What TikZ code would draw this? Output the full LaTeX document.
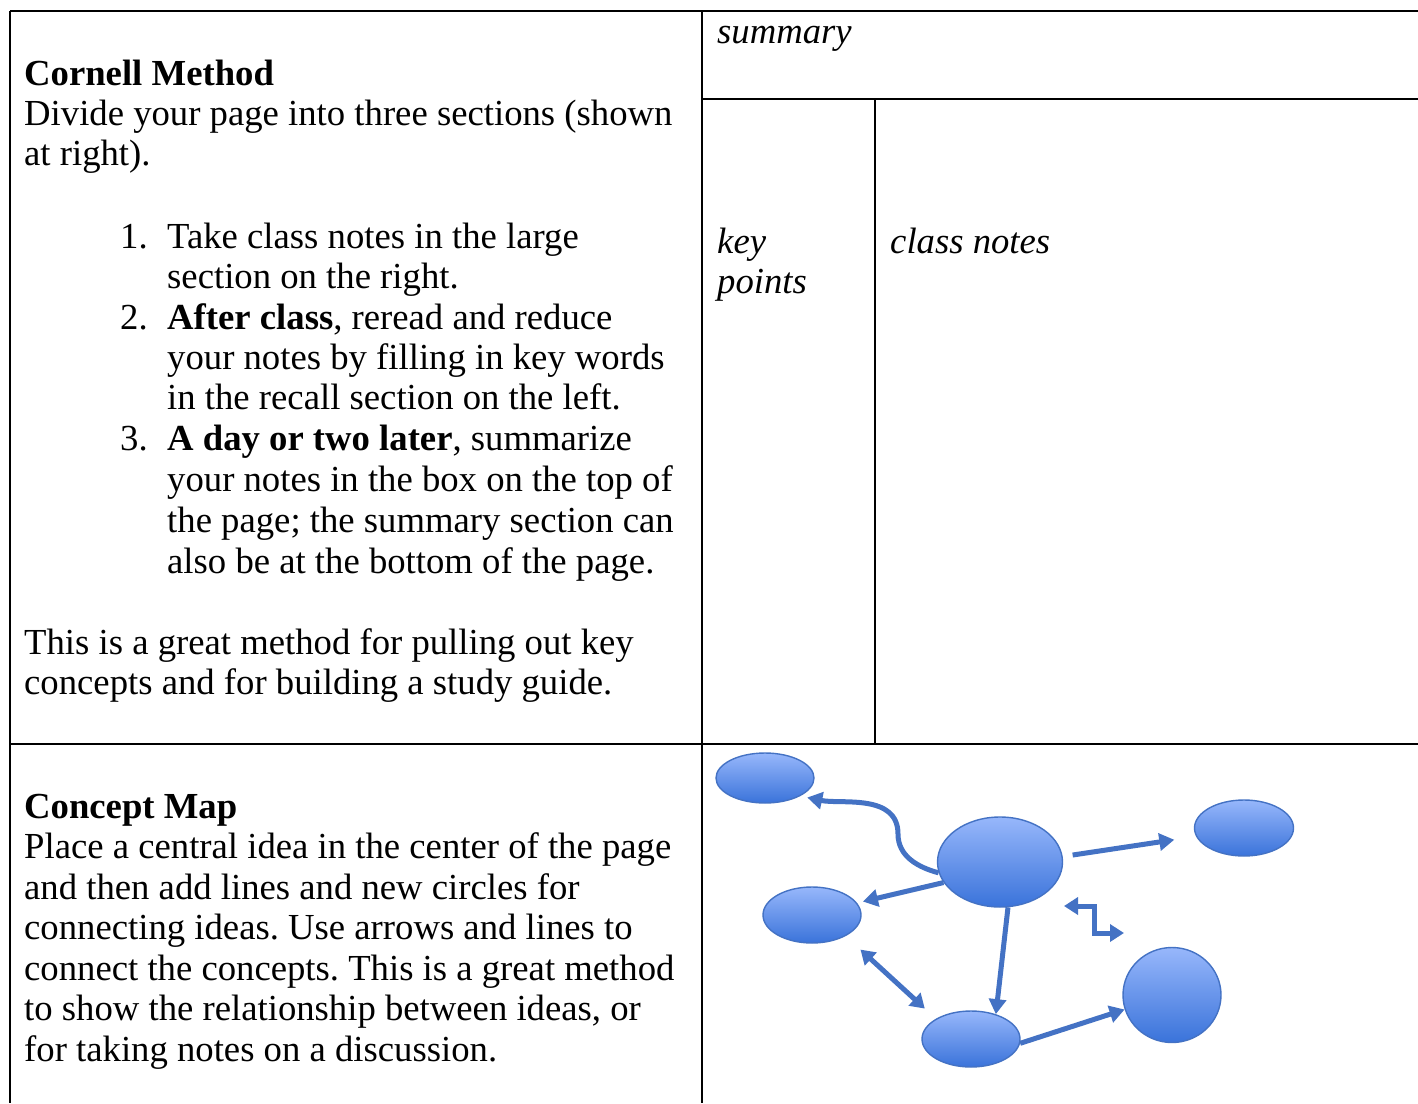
\documentclass[tikz,border=0pt]{standalone}
\usepackage{fontspec}
\setmainfont{Liberation Serif}
\usetikzlibrary{shapes.geometric,arrows.meta,calc}
\definecolor{bubtop}{HTML}{97B7FB}
\definecolor{bubbot}{HTML}{3A73DA}
\definecolor{bubedge}{HTML}{4472C4}
\definecolor{arr}{HTML}{4472C4}
\frenchspacing
\begin{document}
\begin{tikzpicture}[x=1pt,y=-1pt,
  txt/.style={anchor=base west,inner sep=0pt,font=\fontsize{36.7}{40}\selectfont},
  rule/.style={line width=2.4pt,black},
  bubble/.style={ellipse,draw=bubedge,line width=1.4pt,top color=bubtop,bottom color=bubbot,inner sep=0pt},
  conn/.style={arr,line width=5pt,-{Triangle[length=15pt,width=17pt]}},
  dconn/.style={arr,line width=5pt,{Triangle[length=14pt,width=17pt]}-{Triangle[length=14pt,width=17pt]}}
]
\useasboundingbox (0,0) rectangle (1418,1103);
\fill[white] (0,0) rectangle (1418,1103);
% table rules
\draw[rule] (10,11) -- (1418,11);
\draw[rule] (10,11) -- (10,1103);
\draw[rule] (702,11) -- (702,1103);
\draw[rule] (10,744) -- (1418,744);
\draw[rule] (702,99) -- (1418,99);
\draw[rule] (875,99) -- (875,744);
% Cornell text
\node[txt] (h1) at (24,85) {\textbf{Cornell Method}};
\node[txt] (l1) at (24,125) {Divide your page into three sections (shown};
\node[txt] (l2) at (24,165) {at right).};
\node[txt] (n1) at (120,248) {1.};
\node[txt] (t1a) at (167,248) {Take class notes in the large};
\node[txt] (t1b) at (167,288) {section on the right.};
\node[txt] (n2) at (120,329) {2.};
\node[txt] (t2a) at (167,329) {\textbf{After class}, reread and reduce};
\node[txt] (t2b) at (167,369) {your notes by filling in key words};
\node[txt] (t2c) at (167,409) {in the recall section on the left.};
\node[txt] (n3) at (120,450) {3.};
\node[txt] (t3a) at (167,450) {\textbf{A day or two later}, summarize};
\node[txt] (t3b) at (167,491) {your notes in the box on the top of};
\node[txt] (t3c) at (167,532) {the page; the summary section can};
\node[txt] (t3d) at (167,573) {also be at the bottom of the page.};
\node[txt] (p1) at (24,654) {This is a great method for pulling out key};
\node[txt] (p2) at (24,694) {concepts and for building a study guide.};
% right cells
\node[txt] (sum) at (717,43) {\itshape summary};
\node[txt] (kp1) at (717,253) {\itshape key};
\node[txt] (kp2) at (717,293) {\itshape points};
\node[txt] (cn) at (890,253) {\itshape class notes};
% Concept map text
\node[txt] (h2) at (24,818) {\textbf{Concept Map}};
\node[txt] (c1) at (24,858) {Place a central idea in the center of the page};
\node[txt] (c2) at (24,899) {and then add lines and new circles for};
\node[txt] (c3) at (24,939) {connecting ideas. Use arrows and lines to};
\node[txt] (c4) at (24,980) {connect the concepts. This is a great method};
\node[txt] (c5) at (24,1020) {to show the relationship between ideas, or};
\node[txt] (c6) at (24,1061) {for taking notes on a discussion.};
% bubbles
\node[bubble,minimum width=98,minimum height=50] (e1) at (765,778) {};
\node[bubble,minimum width=125,minimum height=90] (c) at (1000,862) {};
\node[bubble,minimum width=99,minimum height=56] (er) at (1244,828) {};
\node[bubble,minimum width=98,minimum height=56] (el) at (812,915) {};
\node[bubble,minimum width=98,minimum height=56] (eb) at (971,1039) {};
\node[bubble,minimum width=98,minimum height=95] (et) at (1172,995) {};
% connectors
\coordinate (bend) at (898,834);
\draw[conn,shorten >=7pt] (c.190) to[out=165,in=-90] (bend) to[out=90,in=-12] (e1.-27);
\draw[conn,shorten <=10pt,shorten >=22pt] (c.5) -- (er.190);
\draw[conn,shorten >=6pt] (c.200) -- (el.15);
\draw[conn] (c.-80) -- (eb.45);
\draw[dconn,shorten <=20pt,shorten >=15pt] (el.-32) -- (eb.150);
\draw[conn] (eb.-5) -- (et.197);
\coordinate (z1) at (1064,906);
\coordinate (z2) at (1124,933);
\draw[dconn] (z1) -- ++(30,0) |- (z2);
\end{tikzpicture}
\end{document}
